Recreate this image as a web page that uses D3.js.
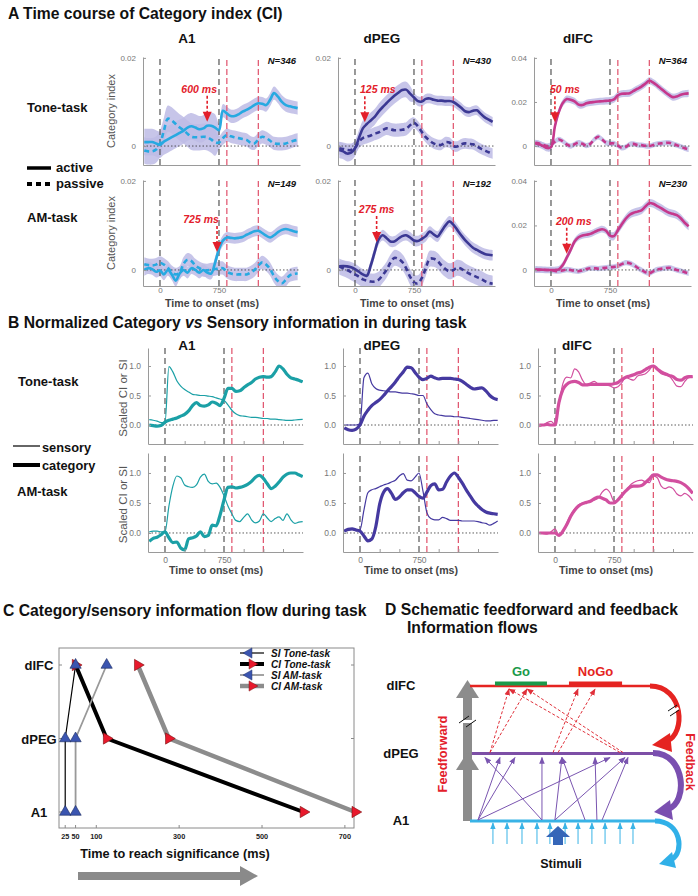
<!DOCTYPE html>
<html><head><meta charset="utf-8">
<script src="https://cdn.jsdelivr.net/npm/d3@7"></script>
<style>body{margin:0;background:#fff}svg{display:block}</style>
</head><body><svg id="chart" width="698" height="896"></svg>
<script>
// ================= DATA =================
const time = [-200,-150,-100,-50,0,50,100,150,200,250,300,350,400,450,500,550,600,650,700,750,800,850,900,950,1000,1050,1100,1150,1200,1250,1300,1350,1400,1450,1500,1550,1600,1650,1700,1750];
const regions = ["A1","dPEG","dIFC"];
const tasks = ["Tone-task","AM-task"];
const stimMarks = [0,750];
const respMarks = [850,1250];

// Panel A : Category index, active / passive
const ciToneA1Act = [0.0009,0.0009,0.0009,0.0006,0.0003,0.0010,0.0015,0.0020,0.0025,0.0030,0.0035,0.0042,0.0045,0.0042,0.0038,0.0040,0.0046,0.0046,0.0042,0.0036,0.0080,0.0074,0.0068,0.0068,0.0072,0.0078,0.0082,0.0087,0.0093,0.0097,0.0096,0.0093,0.0105,0.0120,0.0112,0.0100,0.0093,0.0090,0.0088,0.0086];
const ciToneA1Pas = [-0.0010,-0.0012,-0.0012,-0.0008,0.0005,0.0035,0.0062,0.0058,0.0050,0.0042,0.0036,0.0028,0.0021,0.0020,0.0020,0.0021,0.0020,0.0015,0.0008,0.0008,0.0018,0.0025,0.0022,0.0020,0.0018,0.0016,0.0014,0.0008,0.0006,0.0015,0.0021,0.0018,0.0012,0.0006,0.0005,0.0005,0.0006,0.0009,0.0012,0.0014];
const ciTonePEGAct = [-0.0009,-0.0012,-0.0017,-0.0015,-0.0005,0.0018,0.0040,0.0050,0.0058,0.0066,0.0078,0.0088,0.0097,0.0106,0.0114,0.0121,0.0127,0.0128,0.0119,0.0110,0.0102,0.0101,0.0107,0.0108,0.0105,0.0103,0.0103,0.0102,0.0102,0.0100,0.0094,0.0087,0.0079,0.0077,0.0080,0.0081,0.0073,0.0065,0.0060,0.0055];
const ciTonePEGPas = [-0.0005,-0.0007,-0.0009,-0.0009,-0.0004,0.0010,0.0018,0.0021,0.0024,0.0028,0.0031,0.0036,0.0040,0.0038,0.0036,0.0036,0.0037,0.0039,0.0047,0.0053,0.0045,0.0032,0.0020,0.0012,0.0006,0.0003,0.0003,0.0009,0.0008,0.0000,-0.0001,0.0004,0.0006,0.0005,0.0004,-0.0001,-0.0006,-0.0010,-0.0014,-0.0017];
const ciToneIFCAct = [0.0012,0.0008,0.0000,-0.0009,-0.0005,0.0090,0.0155,0.0195,0.0213,0.0210,0.0203,0.0188,0.0186,0.0194,0.0198,0.0200,0.0202,0.0203,0.0205,0.0206,0.0212,0.0230,0.0237,0.0238,0.0240,0.0250,0.0260,0.0270,0.0283,0.0296,0.0288,0.0275,0.0260,0.0245,0.0232,0.0222,0.0225,0.0233,0.0237,0.0239];
const ciToneIFCPas = [0.0015,0.0012,0.0005,0.0000,0.0005,0.0020,0.0030,0.0022,0.0008,0.0000,0.0008,0.0015,0.0010,0.0002,0.0010,0.0030,0.0042,0.0030,0.0015,0.0012,0.0012,0.0002,-0.0008,-0.0004,0.0008,0.0010,0.0005,0.0004,0.0001,0.0000,0.0005,0.0010,0.0012,0.0014,0.0015,0.0010,0.0004,-0.0003,-0.0010,-0.0015];
const ciAMA1Act = [0.0000,0.0004,0.0002,-0.0004,-0.0001,-0.0010,0.0000,-0.0010,-0.0024,-0.0008,0.0000,-0.0006,0.0004,0.0000,-0.0006,0.0000,-0.0006,-0.0008,0.0016,0.0047,0.0066,0.0073,0.0072,0.0071,0.0072,0.0074,0.0079,0.0083,0.0087,0.0088,0.0083,0.0077,0.0073,0.0078,0.0085,0.0090,0.0092,0.0090,0.0087,0.0085];
const ciAMA1Pas = [0.0013,0.0011,0.0010,0.0012,0.0016,0.0012,0.0005,-0.0005,-0.0010,-0.0006,0.0014,0.0023,0.0020,0.0010,0.0004,0.0000,-0.0001,0.0001,0.0002,0.0004,0.0004,-0.0004,-0.0008,-0.0010,-0.0010,-0.0010,-0.0010,-0.0006,0.0000,0.0010,0.0017,0.0012,0.0002,-0.0014,-0.0025,-0.0030,-0.0022,-0.0012,-0.0009,-0.0008];
const ciAMPEGAct = [0.0008,0.0009,0.0008,0.0006,0.0002,-0.0004,-0.0010,-0.0013,0.0010,0.0040,0.0068,0.0078,0.0072,0.0064,0.0064,0.0070,0.0076,0.0078,0.0073,0.0066,0.0065,0.0070,0.0076,0.0086,0.0080,0.0075,0.0087,0.0100,0.0109,0.0102,0.0090,0.0078,0.0067,0.0058,0.0050,0.0045,0.0040,0.0036,0.0034,0.0033];
const ciAMPEGPas = [0.0008,0.0004,0.0000,-0.0005,-0.0010,-0.0015,-0.0021,-0.0024,-0.0026,-0.0026,-0.0022,-0.0012,0.0000,0.0016,0.0027,0.0025,0.0018,0.0004,-0.0015,-0.0028,-0.0030,-0.0018,0.0004,0.0025,0.0025,0.0020,0.0010,0.0002,-0.0003,0.0000,0.0005,0.0003,-0.0003,-0.0008,-0.0012,-0.0016,-0.0020,-0.0025,-0.0029,-0.0031];
const ciAMIFCAct = [0.0003,0.0002,0.0001,0.0000,0.0000,0.0000,0.0003,0.0022,0.0055,0.0090,0.0128,0.0147,0.0155,0.0158,0.0162,0.0170,0.0178,0.0183,0.0176,0.0154,0.0152,0.0178,0.0205,0.0230,0.0248,0.0257,0.0262,0.0268,0.0285,0.0300,0.0297,0.0287,0.0278,0.0266,0.0257,0.0252,0.0246,0.0232,0.0212,0.0196];
const ciAMIFCPas = [0.0000,0.0000,0.0000,0.0000,0.0000,-0.0004,-0.0005,-0.0002,0.0002,0.0000,-0.0004,-0.0006,-0.0002,0.0004,0.0008,0.0008,0.0006,0.0008,0.0010,0.0012,0.0014,0.0018,0.0026,0.0033,0.0030,0.0022,0.0010,0.0000,-0.0010,-0.0015,-0.0006,0.0002,0.0005,0.0008,0.0010,0.0006,0.0000,-0.0004,-0.0010,-0.0015];
// error band half-widths: [before 750 ms, after 750 ms]
const semToneAct = [[0.0030,0.0015],[0.0018,0.0011],[0.0016,0.0016]];
const semTonePas = [[0.0030,0.0015],[0.0015,0.0012],[0.0012,0.0012]];
const semAMAct = [[0.0013,0.0012],[0.0012,0.0012],[0.0015,0.0018]];
const semAMPas = [[0.0015,0.0015],[0.0018,0.0018],[0.0012,0.0012]];
const nTone = [346,430,364];
const nAM = [149,192,230];
const sigTone = [600,125,50];
const sigAM = [725,275,200];
const yTicksA = [[0,0.02],[0,0.02],[0,0.02,0.04]];

// Panel B : normalized sensory (SI) and category (CI) information
const siToneA1 = [0.09,0.08,0.065,0.04,0.04,0.99,0.90,0.75,0.66,0.60,0.56,0.52,0.51,0.50,0.50,0.49,0.48,0.46,0.44,0.42,0.34,0.25,0.19,0.16,0.15,0.14,0.13,0.13,0.12,0.11,0.11,0.10,0.10,0.09,0.085,0.08,0.08,0.085,0.09,0.095];
const caToneA1 = [0.00,-0.01,-0.02,-0.01,0.05,0.08,0.10,0.12,0.15,0.18,0.24,0.33,0.38,0.33,0.32,0.34,0.39,0.37,0.33,0.45,0.62,0.62,0.57,0.58,0.63,0.68,0.72,0.78,0.81,0.82,0.81,0.82,0.90,1.00,0.95,0.86,0.80,0.78,0.76,0.73];
const siTonePEG = [0.0,0.0,0.0,0.0,0.02,0.80,0.88,0.70,0.62,0.59,0.58,0.57,0.56,0.56,0.55,0.54,0.54,0.53,0.52,0.50,0.50,0.36,0.26,0.19,0.17,0.16,0.15,0.15,0.14,0.14,0.13,0.12,0.11,0.10,0.09,0.08,0.07,0.07,0.08,0.08];
const caTonePEG = [-0.05,-0.08,-0.09,-0.07,0.00,0.15,0.25,0.33,0.38,0.43,0.50,0.58,0.65,0.73,0.82,0.90,0.98,0.97,0.89,0.81,0.77,0.79,0.83,0.80,0.78,0.79,0.79,0.79,0.78,0.77,0.74,0.69,0.64,0.61,0.62,0.63,0.58,0.50,0.45,0.43];
const siToneIFC = [-0.03,0.00,0.04,0.06,0.01,0.35,0.70,0.81,0.80,0.95,0.90,0.76,0.68,0.71,0.74,0.69,0.67,0.68,0.66,0.63,0.65,0.72,0.81,0.78,0.76,0.83,0.85,0.87,0.93,1.01,0.93,0.87,0.85,0.83,0.75,0.66,0.65,0.74,0.80,0.81];
const caToneIFC = [0.00,0.00,0.01,0.00,0.00,0.38,0.60,0.69,0.73,0.74,0.72,0.68,0.68,0.69,0.69,0.69,0.69,0.69,0.69,0.70,0.72,0.77,0.81,0.83,0.85,0.88,0.90,0.94,0.98,1.00,0.95,0.90,0.87,0.84,0.82,0.77,0.76,0.80,0.82,0.82];
const siAMA1 = [0.02,0.03,0.03,0.02,0.02,0.45,0.78,0.95,0.92,0.80,0.77,0.76,0.80,0.93,0.98,0.86,0.82,0.83,0.76,0.62,0.45,0.32,0.21,0.19,0.26,0.32,0.22,0.17,0.20,0.32,0.25,0.19,0.24,0.27,0.21,0.32,0.22,0.16,0.18,0.19];
const caAMA1 = [-0.14,-0.09,-0.07,-0.03,0.02,-0.08,-0.16,-0.15,-0.25,-0.28,-0.10,-0.08,-0.05,0.02,-0.06,-0.04,0.13,0.12,0.30,0.55,0.76,0.77,0.75,0.76,0.78,0.81,0.86,0.93,0.96,0.91,0.82,0.74,0.78,0.85,0.93,0.98,1.00,1.00,0.97,0.94];
const siAMPEG = [0.03,0.05,0.06,0.04,0.05,0.38,0.67,0.72,0.74,0.77,0.80,0.82,0.85,0.88,0.95,0.99,0.88,0.87,0.93,1.00,0.70,0.34,0.24,0.22,0.22,0.26,0.24,0.21,0.21,0.21,0.20,0.20,0.20,0.20,0.19,0.17,0.16,0.13,0.16,0.20];
const caAMPEG = [0.03,0.06,0.07,0.05,0.03,-0.05,-0.13,-0.10,0.10,0.48,0.68,0.74,0.66,0.56,0.60,0.67,0.72,0.72,0.67,0.61,0.58,0.68,0.79,0.82,0.72,0.73,0.85,0.95,1.00,0.93,0.83,0.72,0.62,0.52,0.45,0.39,0.35,0.33,0.32,0.31];
const siAMIFC = [0.00,-0.01,-0.02,0.02,0.07,-0.04,0.00,0.17,0.30,0.40,0.47,0.50,0.52,0.53,0.55,0.58,0.68,0.73,0.67,0.53,0.55,0.61,0.70,0.79,0.84,0.87,0.88,0.85,0.84,0.95,0.92,0.78,0.74,0.77,0.74,0.65,0.62,0.66,0.62,0.54];
const caAMIFC = [0.00,0.00,0.00,0.00,0.00,-0.04,0.03,0.14,0.28,0.38,0.45,0.49,0.51,0.53,0.57,0.60,0.58,0.55,0.50,0.50,0.55,0.63,0.70,0.76,0.78,0.78,0.79,0.84,0.90,0.97,0.97,0.93,0.90,0.88,0.87,0.86,0.84,0.80,0.74,0.66];
const yTicksB = [0,0.5,1];

// Panel C : time to reach significance (ms)
const levelsC = ["dIFC","dPEG","A1"];
const siToneLat = [25,25,50];   // A1, dPEG, dIFC
const ciToneLat = [600,125,50];
const siAMLat = [50,50,125];
const ciAMLat = [725,275,200];
const xTicksC = [25,50,100,300,500,700];
const legendC = ["SI Tone-task","CI Tone-task","SI AM-task","CI AM-task"];

// Panel D : schematic (fractions along each area line)
const ffArrows = [[0.043,0.162],[0.043,0.243],[0.043,0.757],[0.389,0.081],[0.389,0.389],[0.459,0.497],[0.459,0.838],[0.622,0.497],[0.686,0.676],[0.714,0.854]];
const fbArrows = [[0.108,0.211],[0.108,0.308],[0.449,0.584],[0.476,0.676],[0.811,0.211],[0.827,0.308]];
const stimArrows = [0.124,0.200,0.281,0.362,0.432,0.514,0.584,0.659,0.730,0.811,0.881];
const goBar = [0.135,0.416];
const noGoBar = [0.535,0.822];

// ================= DRAW =================
const FONT = 'Arial, "Liberation Sans", Helvetica, sans-serif';
const svg = d3.select("#chart");
svg.append("rect").attr("width",698).attr("height",896).attr("fill","#fff");
const defs = svg.append("defs");

function T(x,y,s,o={}){
  const t = svg.append("text").attr("x",x).attr("y",y).text(s)
    .attr("font-family",FONT).attr("font-size",o.size||13)
    .attr("font-weight",o.weight||"bold").attr("fill",o.fill||"#111")
    .attr("text-anchor",o.anchor||"start").attr("font-style",o.style||"normal");
  if(o.rotate!==undefined) t.attr("transform",`rotate(${o.rotate},${x},${y})`);
  return t;
}
function styleAxis(g,fs,col,bold){
  g.attr("font-family",FONT).attr("font-size",fs);
  g.select(".domain").attr("stroke","#9a9a9a");
  g.selectAll(".tick line").attr("stroke","#9a9a9a");
  g.selectAll(".tick text").attr("fill",col).attr("font-weight",bold?"bold":"normal");
}
let clipN = 0;
function clipRect(x,y,w,h){
  const id="clip"+(clipN++);
  defs.append("clipPath").attr("id",id).append("rect").attr("x",x).attr("y",y).attr("width",w).attr("height",h);
  return `url(#${id})`;
}
function vlines(g,x,y,marks,color,dash){
  g.selectAll(null).data(marks).join("line")
    .attr("x1",d=>x(d)).attr("x2",d=>x(d)).attr("y1",y.range()[0]).attr("y2",y.range()[1])
    .attr("stroke",color).attr("stroke-width",1.2).attr("stroke-dasharray",dash);
}

// ---------- Panel A ----------
T(8,19,"A Time course of Category index (CI)",{size:15.7});
const colorsA = ["#27a9e1","#3b3893","#c5388c"];
const bandColor = "#bdbbe5";
const colA = [143,338,534], wA = 157;
const rowA = [{y0:165,y1:57,dom:[-0.0043,0.0202]},{y0:286,y1:180,dom:[-0.0036,0.0202]}];
const Adata = [
  {act:[ciToneA1Act,ciTonePEGAct,ciToneIFCAct], pas:[ciToneA1Pas,ciTonePEGPas,ciToneIFCPas], sa:semToneAct, sp:semTonePas, n:nTone, sig:sigTone, dx:[-8,13,10]},
  {act:[ciAMA1Act,ciAMPEGAct,ciAMIFCAct], pas:[ciAMA1Pas,ciAMPEGPas,ciAMIFCPas], sa:semAMAct, sp:semAMPas, n:nAM, sig:sigAM, dx:[-16,0,7]}
];
regions.forEach((r,ci)=>T(colA[ci]+44,43,r,{size:13.5,anchor:"middle"}));
T(27,112,"Tone-task",{size:13});
T(27,222,"AM-task",{size:13});
svg.append("line").attr("x1",27).attr("x2",51).attr("y1",168).attr("y2",168).attr("stroke","#000").attr("stroke-width",3.5);
T(56,172,"active",{size:13});
svg.append("line").attr("x1",27).attr("x2",51).attr("y1",184).attr("y2",184).attr("stroke","#000").attr("stroke-width",4).attr("stroke-dasharray","5,4");
T(56,188,"passive",{size:13});

Adata.forEach((D,ri)=>{
  regions.forEach((reg,ci)=>{
    const x0 = colA[ci];
    const sc = ci===2?2:1;
    const R = rowA[ri];
    const x = d3.scaleLinear([-216,1780],[x0,x0+wA]);
    const y = d3.scaleLinear(R.dom.map(v=>v*sc),[R.y0,R.y1]);
    const g = svg.append("g");
    const inner = g.append("g").attr("clip-path",clipRect(x0,R.y1,wA,R.y0-R.y1));
    const semFn = s => (i => time[i] < 750 ? s[0] : s[1]);
    [[D.pas[ci],D.sp[ci]],[D.act[ci],D.sa[ci]]].forEach(([vals,s])=>{
      const f = semFn(s);
      inner.append("path").datum(vals)
        .attr("d",d3.area().x((d,i)=>x(time[i])).y0((d,i)=>y(d-f(i))).y1((d,i)=>y(d+f(i))).curve(d3.curveCatmullRom))
        .attr("fill",bandColor).attr("opacity",0.85);
    });
    inner.append("line").attr("x1",x0).attr("x2",x0+wA).attr("y1",y(0)).attr("y2",y(0))
      .attr("stroke","#333").attr("stroke-width",0.8).attr("stroke-dasharray","1.5,2");
    vlines(inner,x,y,stimMarks,"#555","6,4");
    vlines(inner,x,y,respMarks,"#e0506a","6,3");
    const line = d3.line().x((d,i)=>x(time[i])).y(d=>y(d)).curve(d3.curveCatmullRom);
    inner.append("path").datum(D.pas[ci]).attr("d",line).attr("fill","none")
      .attr("stroke",colorsA[ci]).attr("stroke-width",2.6).attr("stroke-dasharray","5,3.5");
    inner.append("path").datum(D.act[ci]).attr("d",line).attr("fill","none")
      .attr("stroke",colorsA[ci]).attr("stroke-width",2.6);
    const ay = g.append("g").attr("transform",`translate(${x0},0)`)
      .call(d3.axisLeft(y).tickValues(yTicksA[ci]).tickSize(-3).tickSizeOuter(0).tickPadding(7)
        .tickFormat(d=>d===0?"0":d3.format(".2f")(d)));
    styleAxis(ay,8,"#777");
    const ax = g.append("g").attr("transform",`translate(0,${R.y0})`)
      .call(d3.axisBottom(x).tickValues(stimMarks).tickSize(-3).tickSizeOuter(0).tickPadding(1.5)
        .tickFormat(ri===1?(d=>d):(()=>"")));
    styleAxis(ax,8,"#777");
    if(ri===1) T(x0+69,306.5,"Time to onset (ms)",{size:10.6,fill:"#444",anchor:"middle"});
    if(ci===0) T(115,(R.y0+R.y1)/2,"Category index",{size:11,weight:"normal",fill:"#555",anchor:"middle",rotate:-90});
    T(x0+wA-4,R.y1+7,"N="+D.n[ci],{size:9.5,style:"italic",anchor:"end"});
    const ts = D.sig[ci];
    const vAt = d3.scaleLinear(time,D.act[ci]);
    const ax0 = x(ts), tip = y(vAt(ts))-4;
    g.append("line").attr("x1",ax0).attr("x2",ax0).attr("y1",tip-26).attr("y2",tip-9)
      .attr("stroke","#e3202b").attr("stroke-width",1.6).attr("stroke-dasharray","3,2");
    g.append("path").attr("d",`M${ax0-4.5},${tip-10}L${ax0+4.5},${tip-10}L${ax0},${tip}Z`).attr("fill","#e3202b");
    T(ax0+D.dx[ci],tip-29,ts+" ms",{size:10.5,style:"italic",fill:"#e3202b",anchor:"middle"});
  });
});

// ---------- Panel B ----------
const Bt = T(8,328,"B Normalized Category ",{size:15.7});
Bt.append("tspan").attr("font-style","italic").text("vs");
Bt.append("tspan").text(" Sensory information in during task");
const colorsB = ["#1ba0a6","#4539a0","#d24f9f"];
const colB = [148,343,538], wB = 155;
const rowB = [{y0:444,y1:348,dom:[-0.322,1.305]},{y0:552,y1:453,dom:[-0.317,1.333]}];
const Bdata = [
  {si:[siToneA1,siTonePEG,siToneIFC], ca:[caToneA1,caTonePEG,caToneIFC]},
  {si:[siAMA1,siAMPEG,siAMIFC], ca:[caAMA1,caAMPEG,caAMIFC]}
];
regions.forEach((r,ci)=>T(colB[ci]+39,350,r,{size:13.5,anchor:"middle"}));
T(18,386,"Tone-task",{size:13});
T(17,496,"AM-task",{size:13});
svg.append("line").attr("x1",13).attr("x2",40).attr("y1",446).attr("y2",446).attr("stroke","#000").attr("stroke-width",1.2);
T(42,452,"sensory",{size:12.8});
svg.append("line").attr("x1",13).attr("x2",40).attr("y1",465).attr("y2",465).attr("stroke","#000").attr("stroke-width",4);
T(42,470,"category",{size:12.8});

Bdata.forEach((D,ri)=>{
  regions.forEach((reg,ci)=>{
    const x0 = colB[ci];
    const R = rowB[ri];
    const x = d3.scaleLinear([-216,1754],[x0,x0+wB]);
    const y = d3.scaleLinear(R.dom,[R.y0,R.y1]);
    const g = svg.append("g");
    const inner = g.append("g").attr("clip-path",clipRect(x0,R.y1,wB,R.y0-R.y1));
    inner.append("line").attr("x1",x0).attr("x2",x0+wB).attr("y1",y(0)).attr("y2",y(0))
      .attr("stroke","#333").attr("stroke-width",0.8).attr("stroke-dasharray","1.5,2");
    vlines(inner,x,y,stimMarks,"#555","6,4");
    vlines(inner,x,y,respMarks,"#e0506a","6,3");
    const line = d3.line().x((d,i)=>x(time[i])).y(d=>y(d)).curve(d3.curveMonotoneX);
    inner.append("path").datum(D.ca[ci]).attr("d",line).attr("fill","none")
      .attr("stroke",colorsB[ci]).attr("stroke-width",3.2);
    inner.append("path").datum(D.si[ci]).attr("d",line).attr("fill","none")
      .attr("stroke",colorsB[ci]).attr("stroke-width",1.2);
    const ay = g.append("g").attr("transform",`translate(${x0},0)`)
      .call(d3.axisLeft(y).tickValues(yTicksB).tickSize(-3).tickSizeOuter(0).tickPadding(7));
    styleAxis(ay,8.5,"#777");
    const ax = g.append("g").attr("transform",`translate(0,${R.y0})`)
      .call(d3.axisBottom(x).tickValues([0,250,500,750,1000,1250,1500]).tickSize(-3).tickSizeOuter(0).tickPadding(5)
        .tickFormat(ri===1?(d=>stimMarks.includes(d)?d:""):(()=>"")));
    styleAxis(ax,8.5,"#777");
    if(ri===1) T(x0+68,574,"Time to onset (ms)",{size:10.6,fill:"#444",anchor:"middle"});
    if(ci===0) T(127,(R.y0+R.y1)/2+2,"Scaled CI or SI",{size:11.5,weight:"normal",fill:"#555",anchor:"middle",rotate:-90});
  });
});

// ---------- Panel C ----------
T(3,616,"C Category/sensory information flow during task",{size:15.7});
const xC = d3.scaleLinear([10,722],[59,354]);
const yC = d3.scalePoint(levelsC,[665,812]);
const gC = svg.append("g");
gC.append("rect").attr("x",59).attr("y",648).attr("width",295).attr("height",180).attr("fill","none").attr("stroke","#8a8a8a");
gC.selectAll(null).data(xTicksC).join("line").attr("x1",d=>xC(d)).attr("x2",d=>xC(d)).attr("y1",828).attr("y2",825).attr("stroke","#8a8a8a");
gC.selectAll(null).data(levelsC).join("line").attr("x1",59).attr("x2",62).attr("y1",d=>yC(d)).attr("y2",d=>yC(d)).attr("stroke","#8a8a8a");
gC.selectAll(null).data(levelsC).join("line").attr("x1",351).attr("x2",354).attr("y1",d=>yC(d)).attr("y2",d=>yC(d)).attr("stroke","#8a8a8a");
xTicksC.forEach(v=>T(xC(v),839,String(v),{size:7.3,anchor:"middle",fill:"#222"}));
levelsC.forEach(l=>T(39,yC(l)+5,l,{size:13,anchor:"middle"}));
T(175,858,"Time to reach significance (ms)",{size:12.7,anchor:"middle"});
svg.append("path").attr("d","M78,872L240,872L240,866L258,876L240,886L240,880L78,880Z").attr("fill","#8a8a8a");
const seriesC = [
  {lat:ciAMLat, color:"#8c8c8c", w:4.5, kind:"CI"},
  {lat:ciToneLat, color:"#000", w:4, kind:"CI"},
  {lat:siAMLat, color:"#999", w:1.8, kind:"SI"},
  {lat:siToneLat, color:"#000", w:1.2, kind:"SI"}
];
const lineC = d3.line().x(d=>xC(d[0])).y(d=>yC(d[1]));
seriesC.forEach(s=>{
  const pts = s.lat.map((v,i)=>[v,regions[i]]);
  gC.append("path").datum(pts).attr("d",lineC).attr("fill","none").attr("stroke",s.color).attr("stroke-width",s.w).attr("stroke-linejoin","round");
});
const triSym = d3.symbol(d3.symbolTriangle,55)();
["CI","SI"].forEach(k=>{
  seriesC.filter(s=>s.kind===k).forEach(s=>{
    s.lat.forEach((v,i)=>{
      gC.append("path").attr("d",triSym)
        .attr("transform",`translate(${xC(v)},${yC(regions[i])}) rotate(${k==="CI"?90:0})`)
        .attr("fill",k==="CI"?"#e8192c":"#3b55b0").attr("stroke",k==="CI"?"#7a1010":"#1a2a60").attr("stroke-width",0.6);
    });
  });
});
const legStyle = [{c:"#000",w:1.2,k:"SI"},{c:"#000",w:4,k:"CI"},{c:"#999",w:1.8,k:"SI"},{c:"#8c8c8c",w:4.5,k:"CI"}];
legendC.forEach((lab,i)=>{
  const ly = 653+i*11;
  gC.append("line").attr("x1",240).attr("x2",264).attr("y1",ly).attr("y2",ly).attr("stroke",legStyle[i].c).attr("stroke-width",legStyle[i].w);
  gC.append("path").attr("d",d3.symbol(d3.symbolTriangle,45)())
    .attr("transform",`translate(${legStyle[i].k==="SI"?249:252},${ly}) rotate(${legStyle[i].k==="SI"?-90:90})`)
    .attr("fill",legStyle[i].k==="CI"?"#e8192c":"#3b55b0").attr("stroke",legStyle[i].k==="CI"?"#7a1010":"#1a2a60").attr("stroke-width",0.5);
  T(271,ly+3.5,lab,{size:10,style:"italic"});
});

// ---------- Panel D ----------
T(385,615,"D Schematic feedforward and feedback",{size:15.7});
T(407,633,"Information flows",{size:15.7});
const dX = d3.scaleLinear([0,1],[470,655]);
const dY = d3.scalePoint(["dIFC","dPEG","A1"],[686,821]);
["dIFC","dPEG","A1"].forEach(l=>T(401,dY(l)+4,l,{size:13,anchor:"middle"}));
function marker(id,color,size){
  defs.append("marker").attr("id",id).attr("viewBox","0 0 10 10").attr("refX",9).attr("refY",5)
    .attr("markerWidth",size).attr("markerHeight",size).attr("orient","auto").attr("markerUnits","userSpaceOnUse")
    .append("path").attr("d","M0,1L10,5L0,9Z").attr("fill",color);
}
marker("mPurple","#7a55b0",7);
marker("mRed","#e0303a",7);
marker("mCyan","#39b3e6",7);
const gD = svg.append("g");
gD.append("rect").attr("x",463).attr("y",692).attr("width",9).attr("height",129).attr("fill","#8c8c8c");
gD.append("path").attr("d","M456,770L479,770L467.5,752Z").attr("fill","#8c8c8c");
gD.append("path").attr("d","M456,698L479,698L467.5,680Z").attr("fill","#8c8c8c");
gD.append("rect").attr("x",461).attr("y",720).attr("width",13).attr("height",3).attr("fill","#fff");
gD.append("line").attr("x1",459).attr("y1",723).attr("x2",469).attr("y2",716).attr("stroke","#111").attr("stroke-width",1);
gD.append("line").attr("x1",466).attr("y1",727).attr("x2",476).attr("y2",720).attr("stroke","#111").attr("stroke-width",1);
T(447,754,"Feedforward",{size:12.8,fill:"#e3202b",anchor:"middle",rotate:-90});
T(686,762,"Feedback",{size:12.5,fill:"#e3202b",anchor:"middle",rotate:90});
gD.append("line").attr("x1",dX(0)).attr("x2",dX(0.985)).attr("y1",dY("dIFC")).attr("y2",dY("dIFC")).attr("stroke","#e52421").attr("stroke-width",2.5);
gD.append("rect").attr("x",dX(goBar[0])).attr("y",dY("dIFC")-4.5).attr("width",dX(goBar[1])-dX(goBar[0])).attr("height",4).attr("fill","#1a9a4a");
gD.append("rect").attr("x",dX(noGoBar[0])).attr("y",dY("dIFC")-4.5).attr("width",dX(noGoBar[1])-dX(noGoBar[0])).attr("height",4).attr("fill","#e52421");
T((dX(goBar[0])+dX(goBar[1]))/2,676,"Go",{size:13,fill:"#1a9a4a",anchor:"middle"});
T((dX(noGoBar[0])+dX(noGoBar[1]))/2,676,"NoGo",{size:13,fill:"#e52421",anchor:"middle"});
gD.append("line").attr("x1",dX(0.01)).attr("x2",dX(0.99)).attr("y1",dY("dPEG")).attr("y2",dY("dPEG")).attr("stroke","#7d4fa6").attr("stroke-width",3);
gD.append("line").attr("x1",dX(0)).attr("x2",dX(1)).attr("y1",dY("A1")).attr("y2",dY("A1")).attr("stroke","#39b3e6").attr("stroke-width",3);
ffArrows.forEach(([a,b])=>gD.append("line").attr("x1",dX(a)).attr("y1",dY("A1")-1).attr("x2",dX(b)).attr("y2",dY("dPEG")+4)
  .attr("stroke","#7a55b0").attr("stroke-width",1).attr("marker-end","url(#mPurple)"));
fbArrows.forEach(([a,b])=>gD.append("line").attr("x1",dX(a)).attr("y1",dY("dPEG")-1).attr("x2",dX(b)).attr("y2",dY("dIFC")+3)
  .attr("stroke","#e0303a").attr("stroke-width",1).attr("stroke-dasharray","3,2").attr("marker-end","url(#mRed)"));
stimArrows.forEach(a=>gD.append("line").attr("x1",dX(a)).attr("y1",844).attr("x2",dX(a)).attr("y2",dY("A1")+2)
  .attr("stroke","#39b3e6").attr("stroke-width",1).attr("marker-end","url(#mCyan)"));
gD.append("path").attr("d","M553,845L563,845L563,837L570,837L558,826L546,837L553,837Z").attr("fill","#3566b8");
T(561,868,"Stimuli",{size:12.5,anchor:"middle"});
function arc(p,color,w,tip,b1,b2){
  gD.append("path").attr("d",p).attr("fill","none").attr("stroke",color).attr("stroke-width",w);
  gD.append("path").attr("d",`M${tip}L${b1}L${b2}Z`).attr("fill",color);
}
arc("M650,686C684,686,686,734,667,741","#e52421",5,"652,745","670,733","672,752");
gD.append("rect").attr("x",669).attr("y",709).attr("width",10).attr("height",3).attr("fill","#fff").attr("transform","rotate(-30,674,710)");
gD.append("line").attr("x1",668).attr("y1",711).attr("x2",677).attr("y2",705).attr("stroke","#111");
gD.append("line").attr("x1",670).attr("y1",716).attr("x2",679).attr("y2",710).attr("stroke","#111");
arc("M653,753C686,753,688,803,668,809","#7a4fb0",6,"654,812","670,800","673,820");
arc("M655,821C682,821,684,853,672,859","#30b0e8",5,"659,864","672,852","676,868");
</script></body></html>
